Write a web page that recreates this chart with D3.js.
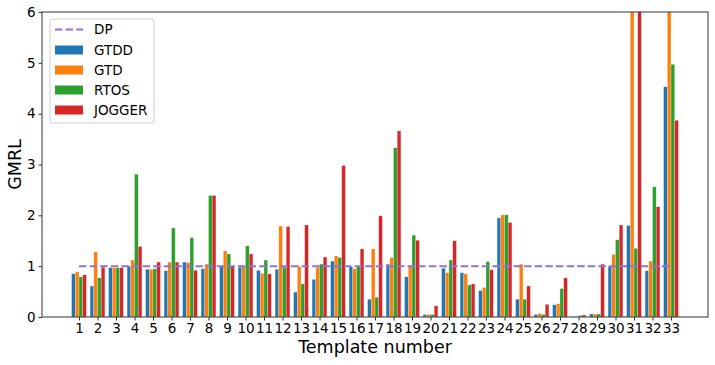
<!DOCTYPE html>
<html>
<head>
<meta charset="utf-8">
<script src="https://cdn.jsdelivr.net/npm/d3@7"></script>
<style>
  body { margin: 0; background: #fff; }
  text { font-family: "DejaVu Sans", sans-serif; fill: #000; }
</style>
</head>
<body>
<div id="chart"></div>
<script>
const templates = d3.range(1, 34)

// GMRL per template (values above 6 run off the top of the plot)
const gtdd   = [0.85,0.61,0.97,1.00,0.94,0.91,1.08,0.95,1.00,0.98,0.92,0.94,0.49,0.74,1.10,0.99,0.35,1.04,0.79,0.05,0.96,0.87,0.52,1.95,0.35,0.05,0.24,0.01,0.06,1.00,1.80,0.91,4.53]
const gtd    = [0.89,1.28,0.97,1.12,0.94,1.08,1.07,1.04,1.30,1.00,0.86,1.79,0.99,0.98,1.20,0.95,1.34,1.17,1.00,0.05,0.87,0.85,0.58,2.01,1.04,0.07,0.26,0.01,0.06,1.23,6.8,1.10,6.5]
const rtos   = [0.79,0.77,0.97,2.81,0.95,1.75,1.56,2.39,1.24,1.40,1.12,0.98,0.65,1.04,1.17,1.00,0.39,3.33,1.61,0.05,1.12,0.63,1.09,2.01,0.35,0.05,0.56,0.03,0.06,1.52,1.35,2.56,4.97]
const jogger = [0.83,0.98,0.97,1.39,1.08,1.08,0.92,2.39,1.00,1.24,0.85,1.78,1.81,1.18,2.98,1.34,1.99,3.66,1.51,0.22,1.50,0.65,0.93,1.86,0.61,0.25,0.77,0.04,1.04,1.81,7.2,2.17,3.87]
const dp = 1

const seriesNames = ['GTDD', 'GTD', 'RTOS', 'JOGGER']
const seriesValues = [gtdd, gtd, rtos, jogger]
const colors = ['#1f77b4', '#ff7f0e', '#2ca02c', '#d62728']
const yTicks = [0, 1, 2, 3, 4, 5, 6]

const w = 715
const h = 365
const plotL = 42, plotR = 708, plotT = 12, plotB = 317
const barW = 0.2

const svg = d3.select('#chart')
  .append('svg')
  .attr('width', w)
  .attr('height', h)

const x = d3.scaleLinear().domain([-1, 35]).range([plotL, plotR])
const y = d3.scaleLinear().domain([0, 6]).range([plotB, plotT])

svg.append('clipPath')
  .attr('id', 'plotclip')
  .append('rect')
  .attr('x', plotL)
  .attr('y', plotT)
  .attr('width', plotR - plotL)
  .attr('height', plotB - plotT)

const plot = svg.append('g').attr('clip-path', 'url(#plotclip)')

// bars
seriesValues.forEach(function(vals, s){
  plot.append('g')
    .selectAll('rect')
    .data(vals)
    .enter()
    .append('rect')
    .attr('x', function(d, i){ return x(templates[i] + (s - 2) * barW) })
    .attr('width', x(barW) - x(0))
    .attr('y', function(d){ return y(d) })
    .attr('height', function(d){ return y(0) - y(d) })
    .attr('fill', colors[s])
    .attr('stroke', '#fff')
    .attr('stroke-opacity', 0.5)
    .attr('stroke-width', 0.5)
})

// DP line
plot.append('line')
  .attr('x1', x(templates[0]))
  .attr('x2', x(templates[templates.length - 1]))
  .attr('y1', y(dp))
  .attr('y2', y(dp))
  .attr('stroke', '#9370db')
  .attr('stroke-width', 2)
  .attr('stroke-dasharray', '7.4,3.2')

// axes
const xAxis = svg.append('g')
  .attr('transform', 'translate(0,' + plotB + ')')
  .call(d3.axisBottom(x).tickValues(templates).tickFormat(d3.format('d')).tickSizeInner(3.5).tickSizeOuter(0).tickPadding(3))
xAxis.select('.domain').remove()
xAxis.selectAll('text').attr('font-size', '13.5px').attr('fill', '#000')
xAxis.selectAll('line').attr('stroke', '#333')

const yAxis = svg.append('g')
  .attr('transform', 'translate(' + plotL + ',0)')
  .call(d3.axisLeft(y).tickValues(yTicks).tickFormat(d3.format('d')).tickSizeInner(3.5).tickSizeOuter(0).tickPadding(3))
yAxis.select('.domain').remove()
yAxis.selectAll('text').attr('font-size', '13.5px').attr('fill', '#000')
yAxis.selectAll('line').attr('stroke', '#333')

// frame
svg.append('rect')
  .attr('x', plotL)
  .attr('y', plotT)
  .attr('width', plotR - plotL)
  .attr('height', plotB - plotT)
  .attr('fill', 'none')
  .attr('stroke', '#333')
  .attr('stroke-width', 1)

// axis labels
svg.append('text')
  .attr('x', (plotL + plotR) / 2)
  .attr('y', 353)
  .attr('text-anchor', 'middle')
  .attr('font-size', '17.5px')
  .text('Template number')

svg.append('text')
  .attr('transform', 'translate(21,' + (plotT + plotB) / 2 + ') rotate(-90)')
  .attr('text-anchor', 'middle')
  .attr('font-size', '17.5px')
  .text('GMRL')

// legend
const lg = svg.append('g').attr('transform', 'translate(50,19)')
lg.append('rect')
  .attr('width', 104)
  .attr('height', 104)
  .attr('rx', 3)
  .attr('fill', '#fff')
  .attr('fill-opacity', 0.8)
  .attr('stroke', '#d0d0d0')

lg.append('line')
  .attr('x1', 5).attr('x2', 33)
  .attr('y1', 10.5).attr('y2', 10.5)
  .attr('stroke', '#9370db')
  .attr('stroke-width', 2)
  .attr('stroke-dasharray', '7.4,3.2')
lg.append('text')
  .attr('x', 44).attr('y', 10.5)
  .attr('dy', '0.35em')
  .attr('font-size', '13.5px')
  .text('DP')

const items = lg.selectAll('g.item')
  .data(seriesNames)
  .enter()
  .append('g')
  .attr('class', 'item')
  .attr('transform', function(d, i){ return 'translate(0,' + (31 + i * 20) + ')' })
items.append('rect')
  .attr('x', 5).attr('y', -4.5)
  .attr('width', 28).attr('height', 9)
  .attr('fill', function(d, i){ return colors[i] })
items.append('text')
  .attr('x', 44)
  .attr('dy', '0.35em')
  .attr('font-size', '13.5px')
  .text(function(d){ return d })
</script>
</body>
</html>
